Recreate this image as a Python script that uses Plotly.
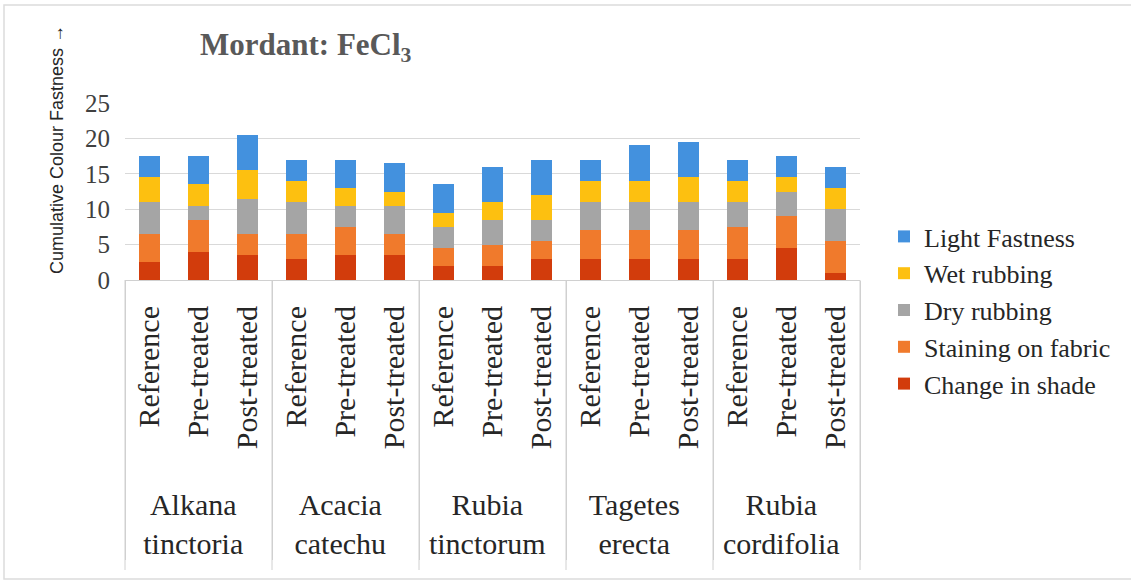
import plotly.graph_objects as go

# Plants (outer category level) and treatment stages (inner level)
plants = ["Alkana<br>tinctoria", "Acacia<br>catechu", "Rubia<br>tinctorum",
          "Tagetes<br>erecta", "Rubia<br>cordifolia"]
treatments = ["Reference", "Pre-treated", "Post-treated"]

# Fastness grades per bar, in plant/treatment order
change_in_shade = [2.5, 4, 3.5, 3, 3.5, 3.5, 2, 2, 3, 3, 3, 3, 3, 4.5, 1]
staining_on_fabric = [4, 4.5, 3, 3.5, 4, 3, 2.5, 3, 2.5, 4, 4, 4, 4.5, 4.5, 4.5]
dry_rubbing = [4.5, 2, 5, 4.5, 3, 4, 3, 3.5, 3, 4, 4, 4, 3.5, 3.5, 4.5]
wet_rubbing = [3.5, 3, 4, 3, 2.5, 2, 2, 2.5, 3.5, 3, 3, 3.5, 3, 2, 3]
light_fastness = [3, 4, 5, 3, 4, 4, 4, 5, 5, 3, 5, 5, 3, 3, 3]

y_ticks = [0, 5, 10, 15, 20, 25]

# leading no-break spaces leave a gap between the rotated treatment
# labels and the plant names below them
pad = "\u00a0" * 3
outer = [p for p in plants for _ in treatments]
inner = [pad + t for _ in plants for t in treatments]

series = [
    ("Change in shade", change_in_shade, "#D23C0C"),
    ("Staining on fabric", staining_on_fabric, "#F07A2C"),
    ("Dry rubbing", dry_rubbing, "#A5A5A5"),
    ("Wet rubbing", wet_rubbing, "#FDC010"),
    ("Light Fastness", light_fastness, "#4391DE"),
]

fig = go.Figure()
for name, vals, color in series:
    fig.add_trace(go.Bar(
        x=[outer, inner], y=vals, name=name,
        marker=dict(color=color, line=dict(width=0)),
    ))

serif = "Liberation Serif, Times New Roman, serif"

# plot area in pixels: x 125..860, y 103..280
L, R, T, B = 125, 860, 103, 280
W, H = 1131, 581

def px_x(p):
    return (p - L) / (R - L)

def px_y(p):
    return (B - p) / (B - T)

# group separator lines continued down through the label block
n_groups = len(plants)
separators = [
    dict(type="line", xref="paper", yref="paper",
         x0=i / n_groups, x1=i / n_groups, y0=0, y1=px_y(570),
         line=dict(color="#D0D0D0", width=1))
    for i in range(n_groups + 1)
]

fig.update_layout(
    width=W, height=H,
    margin=dict(l=L, r=W - R, t=T, b=H - B, autoexpand=False),
    paper_bgcolor="white", plot_bgcolor="white",
    barmode="stack", bargap=0.57,
    showlegend=True,
    legend=dict(
        traceorder="reversed",
        x=px_x(884), y=px_y(213), xanchor="left", yanchor="top",
        font=dict(family=serif, size=26, color="#262626"),
        itemwidth=30, tracegroupgap=0, maxheight=400,
    ),
    font=dict(family=serif, color="#262626"),
    xaxis=dict(
        type="multicategory",
        tickangle=-90,
        tickfont=dict(family=serif, size=30, color="#262626"),
        showline=True, linecolor="#D0D0D0", linewidth=1,
        showdividers=True, dividercolor="#D0D0D0", dividerwidth=1,
        ticks="", ticklabelstandoff=13,
    ),
    yaxis=dict(
        range=[0, 25], tickvals=y_ticks,
        tickfont=dict(family=serif, size=25, color="#404040"),
        showgrid=True, gridcolor="#D9D9D9", gridwidth=1,
        zeroline=False, showline=False,
        ticklabelstandoff=14,
    ),
    annotations=[
        dict(text="<b>Mordant: FeCl<sub>3</sub></b>", xref="paper", yref="paper",
             x=px_x(198), y=px_y(47), xanchor="left", yanchor="middle",
             showarrow=False, font=dict(family=serif, size=31, color="#595959")),
        dict(text="Cumulative Colour Fastness \u2192", xref="paper", yref="paper",
             x=px_x(57), y=px_y(150), xanchor="center", yanchor="middle",
             textangle=-90, showarrow=False,
             font=dict(family="Liberation Sans, Arial, sans-serif", size=18,
                       color="#262626")),
    ],
    shapes=[
        dict(type="rect", xref="paper", yref="paper",
             x0=px_x(4), x1=px_x(1140), y0=px_y(579), y1=px_y(5),
             line=dict(color="#DCDCDC", width=1.5), fillcolor="rgba(0,0,0,0)",
             layer="below"),
    ] + separators,
)

fig.write_html("out.html")
